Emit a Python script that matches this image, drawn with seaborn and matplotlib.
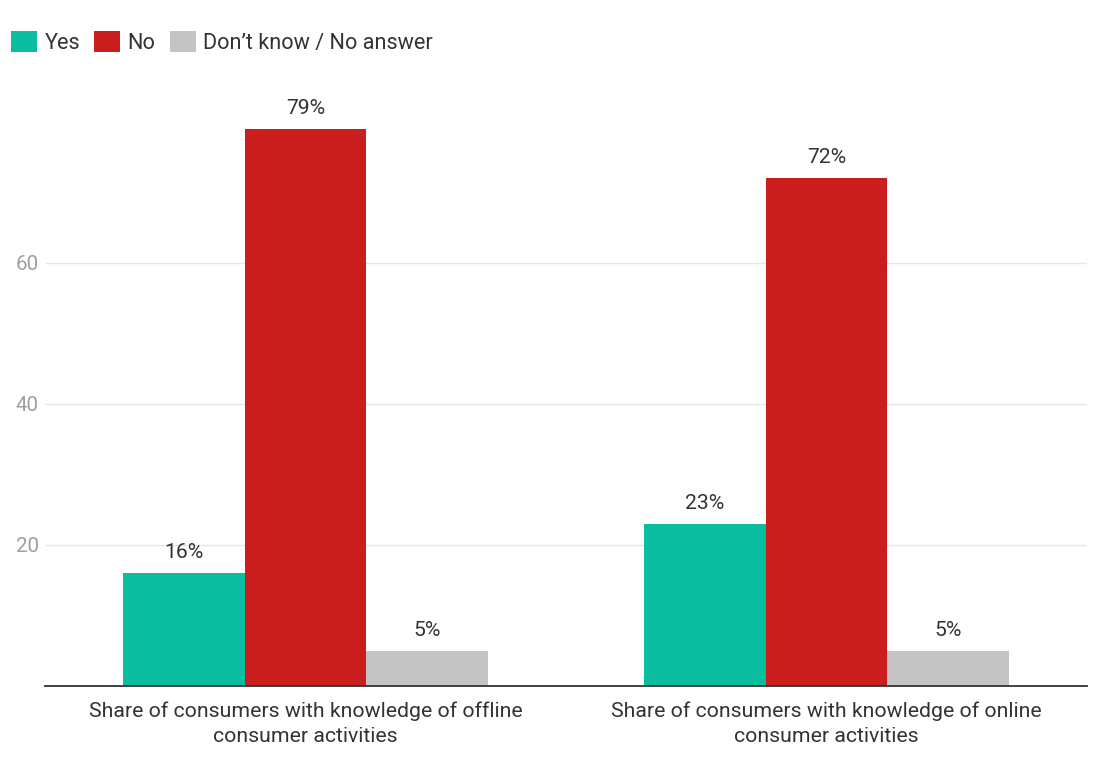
import matplotlib
matplotlib.use("Agg")
import matplotlib.pyplot as plt
import seaborn as sns
import pandas as pd

categories = ["Share of consumers with knowledge of offline\nconsumer activities",
              "Share of consumers with knowledge of online\nconsumer activities"]
series_names = ["Yes", "No", "Don\u2019t know / No answer"]
yes_vals = [16, 23]
no_vals = [79, 72]
dk_vals = [5, 5]
y_ticks = [20, 40, 60]
colors = ["#0bbd9f", "#c91d1e", "#c4c4c4"]

rows = []
for name, vals in zip(series_names, [yes_vals, no_vals, dk_vals]):
    for c, v in zip(categories, vals):
        rows.append({"category": c, "series": name, "value": v})
df = pd.DataFrame(rows)

sns.set_theme(style="white")
plt.rcParams['font.family'] = ['Roboto', 'DejaVu Sans']

fig = plt.figure(figsize=(10.97, 7.58), dpi=100)
ax = fig.add_axes([0.041, 0.095, 0.95, 0.772])

sns.barplot(data=df, x="category", y="value", hue="series", hue_order=series_names,
            palette=colors, width=0.7, saturation=1, ax=ax, legend=False, linewidth=0)

for cont in ax.containers:
    ax.bar_label(cont, labels=[f"{int(v)}%" for v in cont.datavalues], padding=8,
                 fontsize=15.2, color="#333333")

ax.set_xlim(-0.5, 1.5)
ax.set_ylim(0, 83)
ax.set_yticks(y_ticks)
ax.set_yticklabels([str(t) for t in y_ticks])
ax.tick_params(axis="y", labelsize=14.8, labelcolor="#9e9e9e", length=0, pad=-2)
ax.tick_params(axis="x", labelsize=15.3, labelcolor="#333333", length=0, pad=11)
for lbl in ax.get_xticklabels():
    lbl.set_linespacing(1.4)
ax.yaxis.grid(True, color="#e6e6e6", linewidth=1)
ax.set_axisbelow(True)
ax.set_xlabel("")
ax.set_ylabel("")
for s in ["top", "right", "left"]:
    ax.spines[s].set_visible(False)
ax.spines["bottom"].set_color("#333333")
ax.spines["bottom"].set_linewidth(1.3)
for lbl in ax.get_yticklabels():
    lbl.set_horizontalalignment("left")
    lbl.set_x(-0.0305)

from matplotlib.patches import Patch
handles = [Patch(facecolor=c, edgecolor="none") for c in colors]
fig.legend(handles, series_names, loc="upper left", bbox_to_anchor=(-0.008, 0.985), ncol=3,
           frameon=False, fontsize=15.6, handlelength=1.2, handleheight=1.1,
           handletextpad=0.35, columnspacing=0.65, labelcolor="#333333")

fig.savefig("out.png", dpi=100)
